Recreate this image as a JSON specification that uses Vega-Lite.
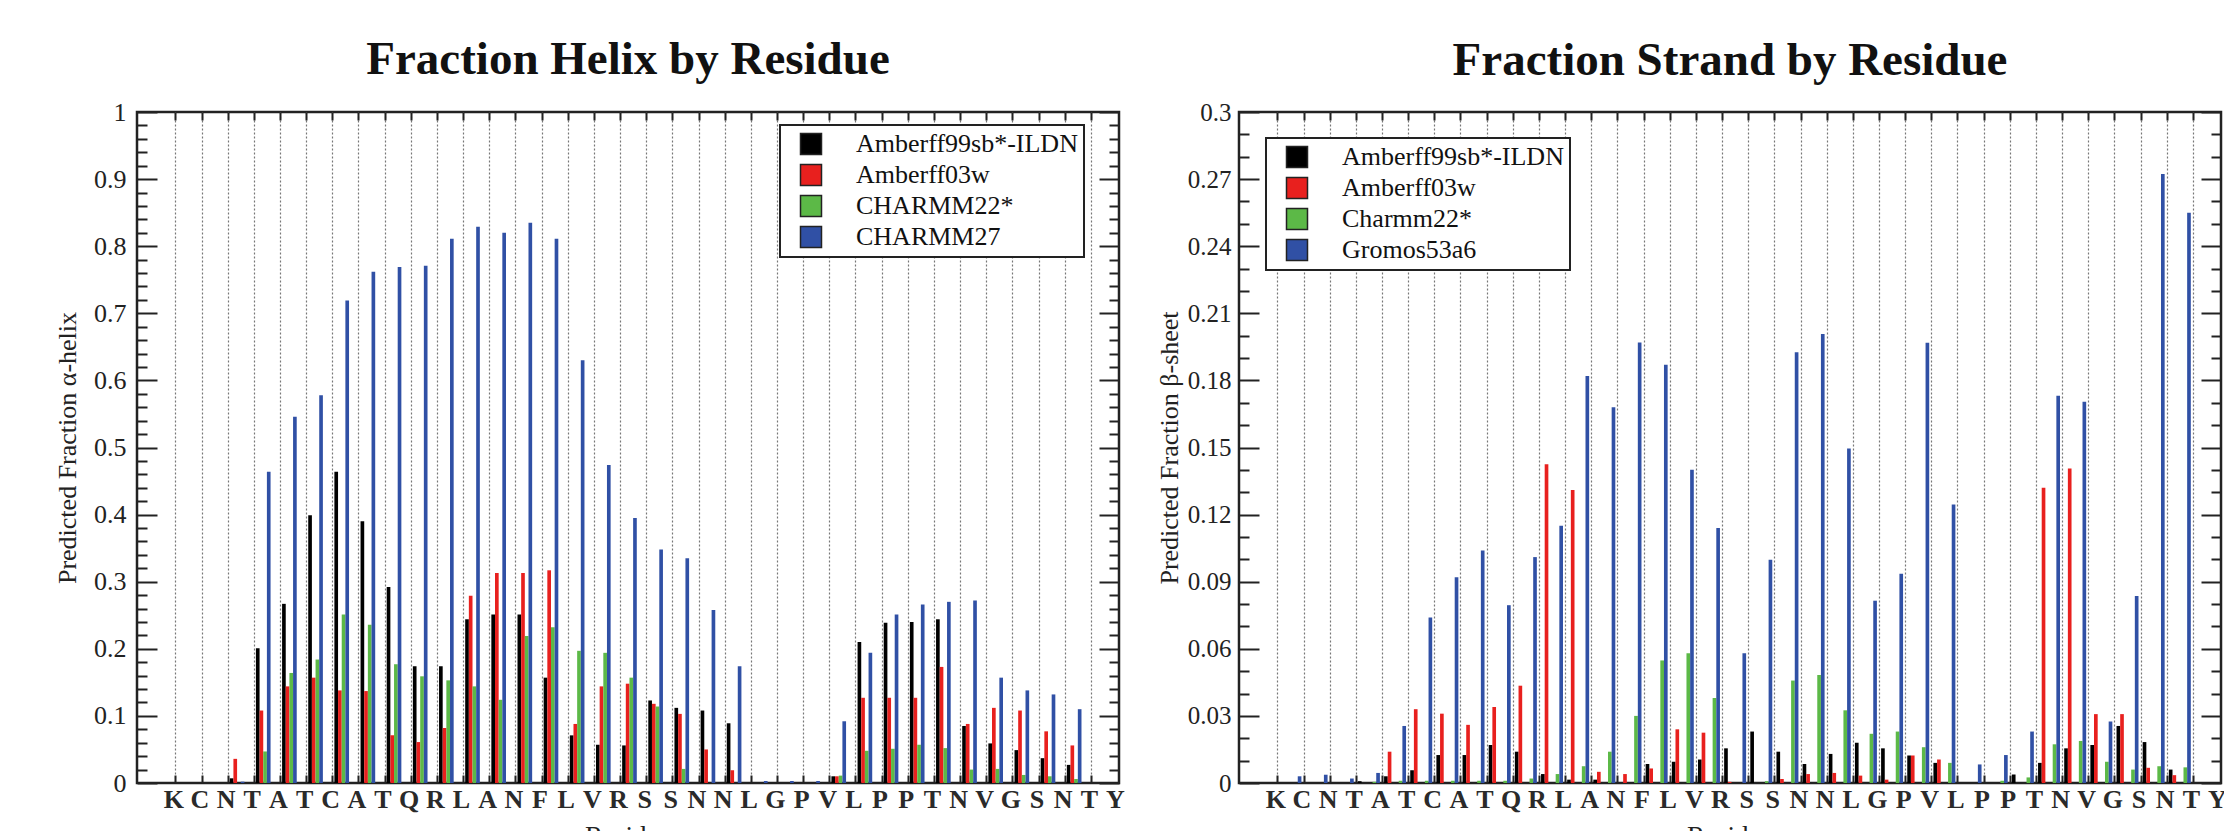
{
  "$schema": "https://vega.github.io/schema/vega-lite/v6.json",
  "background": "white",
  "autosize": {"type": "pad"},
  "padding": {"left": 52, "top": 34, "right": 5, "bottom": 0},
  "config": {
    "font": "Liberation Serif",
    "view": {"stroke": "#222", "strokeWidth": 2.5},
    "axis": {"labelFont": "Liberation Serif", "titleFont": "Liberation Serif", "labelColor": "#222", "titleColor": "#222", "tickColor": "#222", "tickWidth": 2, "domain": false, "grid": false, "titleFontWeight": "normal"},
    "title": {"font": "Liberation Serif", "fontSize": 47, "fontWeight": "bold", "color": "#111", "anchor": "middle", "offset": 15},
    "legend": {"symbolType": "square", "symbolSize": 441, "symbolStrokeColor": "#222", "symbolStrokeWidth": 1.5, "labelFont": "Liberation Serif", "labelFontSize": 26, "labelColor": "#111", "labelLimit": 400, "labelOffset": 32, "symbolOffset": 12, "padding": 6, "rowPadding": 3, "strokeColor": "#222", "strokeWidth": 2, "fillColor": "white"}
  },
  "datasets": {
    "helix": [
      {"i": 1, "res": "K", "Amberff99sb*-ILDN": 0, "Amberff03w": 0, "CHARMM22*": 0, "CHARMM27": 0},
      {"i": 2, "res": "C", "Amberff99sb*-ILDN": 0, "Amberff03w": 0, "CHARMM22*": 0, "CHARMM27": 0},
      {"i": 3, "res": "N", "Amberff99sb*-ILDN": 0, "Amberff03w": 0, "CHARMM22*": 0, "CHARMM27": 0},
      {"i": 4, "res": "T", "Amberff99sb*-ILDN": 0.007, "Amberff03w": 0.036, "CHARMM22*": 0, "CHARMM27": 0.002},
      {"i": 5, "res": "A", "Amberff99sb*-ILDN": 0.201, "Amberff03w": 0.108, "CHARMM22*": 0.047, "CHARMM27": 0.464},
      {"i": 6, "res": "T", "Amberff99sb*-ILDN": 0.267, "Amberff03w": 0.144, "CHARMM22*": 0.164, "CHARMM27": 0.546},
      {"i": 7, "res": "C", "Amberff99sb*-ILDN": 0.399, "Amberff03w": 0.157, "CHARMM22*": 0.184, "CHARMM27": 0.578},
      {"i": 8, "res": "A", "Amberff99sb*-ILDN": 0.464, "Amberff03w": 0.138, "CHARMM22*": 0.251, "CHARMM27": 0.719},
      {"i": 9, "res": "T", "Amberff99sb*-ILDN": 0.39, "Amberff03w": 0.137, "CHARMM22*": 0.236, "CHARMM27": 0.762},
      {"i": 10, "res": "Q", "Amberff99sb*-ILDN": 0.292, "Amberff03w": 0.071, "CHARMM22*": 0.177, "CHARMM27": 0.769},
      {"i": 11, "res": "R", "Amberff99sb*-ILDN": 0.174, "Amberff03w": 0.061, "CHARMM22*": 0.159, "CHARMM27": 0.771},
      {"i": 12, "res": "L", "Amberff99sb*-ILDN": 0.174, "Amberff03w": 0.082, "CHARMM22*": 0.153, "CHARMM27": 0.811},
      {"i": 13, "res": "A", "Amberff99sb*-ILDN": 0.244, "Amberff03w": 0.279, "CHARMM22*": 0.144, "CHARMM27": 0.829},
      {"i": 14, "res": "N", "Amberff99sb*-ILDN": 0.251, "Amberff03w": 0.313, "CHARMM22*": 0.124, "CHARMM27": 0.82},
      {"i": 15, "res": "F", "Amberff99sb*-ILDN": 0.251, "Amberff03w": 0.313, "CHARMM22*": 0.219, "CHARMM27": 0.835},
      {"i": 16, "res": "L", "Amberff99sb*-ILDN": 0.157, "Amberff03w": 0.317, "CHARMM22*": 0.232, "CHARMM27": 0.811},
      {"i": 17, "res": "V", "Amberff99sb*-ILDN": 0.071, "Amberff03w": 0.088, "CHARMM22*": 0.197, "CHARMM27": 0.63},
      {"i": 18, "res": "R", "Amberff99sb*-ILDN": 0.057, "Amberff03w": 0.144, "CHARMM22*": 0.194, "CHARMM27": 0.474},
      {"i": 19, "res": "S", "Amberff99sb*-ILDN": 0.056, "Amberff03w": 0.148, "CHARMM22*": 0.157, "CHARMM27": 0.395},
      {"i": 20, "res": "S", "Amberff99sb*-ILDN": 0.123, "Amberff03w": 0.118, "CHARMM22*": 0.114, "CHARMM27": 0.348},
      {"i": 21, "res": "N", "Amberff99sb*-ILDN": 0.112, "Amberff03w": 0.103, "CHARMM22*": 0.021, "CHARMM27": 0.335},
      {"i": 22, "res": "N", "Amberff99sb*-ILDN": 0.108, "Amberff03w": 0.05, "CHARMM22*": 0, "CHARMM27": 0.258},
      {"i": 23, "res": "L", "Amberff99sb*-ILDN": 0.089, "Amberff03w": 0.019, "CHARMM22*": 0, "CHARMM27": 0.174},
      {"i": 24, "res": "G", "Amberff99sb*-ILDN": 0, "Amberff03w": 0, "CHARMM22*": 0, "CHARMM27": 0.003},
      {"i": 25, "res": "P", "Amberff99sb*-ILDN": 0, "Amberff03w": 0, "CHARMM22*": 0, "CHARMM27": 0.003},
      {"i": 26, "res": "V", "Amberff99sb*-ILDN": 0, "Amberff03w": 0, "CHARMM22*": 0, "CHARMM27": 0.003},
      {"i": 27, "res": "L", "Amberff99sb*-ILDN": 0.01, "Amberff03w": 0.01, "CHARMM22*": 0.011, "CHARMM27": 0.092},
      {"i": 28, "res": "P", "Amberff99sb*-ILDN": 0.21, "Amberff03w": 0.127, "CHARMM22*": 0.048, "CHARMM27": 0.194},
      {"i": 29, "res": "P", "Amberff99sb*-ILDN": 0.239, "Amberff03w": 0.127, "CHARMM22*": 0.051, "CHARMM27": 0.251},
      {"i": 30, "res": "T", "Amberff99sb*-ILDN": 0.24, "Amberff03w": 0.127, "CHARMM22*": 0.057, "CHARMM27": 0.266},
      {"i": 31, "res": "N", "Amberff99sb*-ILDN": 0.244, "Amberff03w": 0.173, "CHARMM22*": 0.052, "CHARMM27": 0.27},
      {"i": 32, "res": "V", "Amberff99sb*-ILDN": 0.085, "Amberff03w": 0.088, "CHARMM22*": 0.02, "CHARMM27": 0.272},
      {"i": 33, "res": "G", "Amberff99sb*-ILDN": 0.059, "Amberff03w": 0.112, "CHARMM22*": 0.021, "CHARMM27": 0.157},
      {"i": 34, "res": "S", "Amberff99sb*-ILDN": 0.049, "Amberff03w": 0.108, "CHARMM22*": 0.012, "CHARMM27": 0.138},
      {"i": 35, "res": "N", "Amberff99sb*-ILDN": 0.037, "Amberff03w": 0.077, "CHARMM22*": 0.01, "CHARMM27": 0.132},
      {"i": 36, "res": "T", "Amberff99sb*-ILDN": 0.027, "Amberff03w": 0.056, "CHARMM22*": 0.006, "CHARMM27": 0.11},
      {"i": 37, "res": "Y", "Amberff99sb*-ILDN": 0, "Amberff03w": 0, "CHARMM22*": 0, "CHARMM27": 0}
    ],
    "strand": [
      {"i": 1, "res": "K", "Amberff99sb*-ILDN": 0, "Amberff03w": 0, "Charmm22*": 0, "Gromos53a6": 0},
      {"i": 2, "res": "C", "Amberff99sb*-ILDN": 0, "Amberff03w": 0, "Charmm22*": 0, "Gromos53a6": 0.003},
      {"i": 3, "res": "N", "Amberff99sb*-ILDN": 0, "Amberff03w": 0, "Charmm22*": 0, "Gromos53a6": 0.0037},
      {"i": 4, "res": "T", "Amberff99sb*-ILDN": 0, "Amberff03w": 0, "Charmm22*": 0, "Gromos53a6": 0.002},
      {"i": 5, "res": "A", "Amberff99sb*-ILDN": 0.0008, "Amberff03w": 0, "Charmm22*": 0.0005, "Gromos53a6": 0.0045},
      {"i": 6, "res": "T", "Amberff99sb*-ILDN": 0.003, "Amberff03w": 0.014, "Charmm22*": 0.001, "Gromos53a6": 0.0255},
      {"i": 7, "res": "C", "Amberff99sb*-ILDN": 0.0057, "Amberff03w": 0.033, "Charmm22*": 0.001, "Gromos53a6": 0.074},
      {"i": 8, "res": "A", "Amberff99sb*-ILDN": 0.0125, "Amberff03w": 0.031, "Charmm22*": 0.001, "Gromos53a6": 0.092},
      {"i": 9, "res": "T", "Amberff99sb*-ILDN": 0.0125, "Amberff03w": 0.026, "Charmm22*": 0.001, "Gromos53a6": 0.104},
      {"i": 10, "res": "Q", "Amberff99sb*-ILDN": 0.017, "Amberff03w": 0.034, "Charmm22*": 0.001, "Gromos53a6": 0.0795},
      {"i": 11, "res": "R", "Amberff99sb*-ILDN": 0.014, "Amberff03w": 0.0435, "Charmm22*": 0.002, "Gromos53a6": 0.101},
      {"i": 12, "res": "L", "Amberff99sb*-ILDN": 0.004, "Amberff03w": 0.1425, "Charmm22*": 0.004, "Gromos53a6": 0.115},
      {"i": 13, "res": "A", "Amberff99sb*-ILDN": 0.0015, "Amberff03w": 0.131, "Charmm22*": 0.0075, "Gromos53a6": 0.182},
      {"i": 14, "res": "N", "Amberff99sb*-ILDN": 0.0015, "Amberff03w": 0.005, "Charmm22*": 0.014, "Gromos53a6": 0.168},
      {"i": 15, "res": "F", "Amberff99sb*-ILDN": 0, "Amberff03w": 0.004, "Charmm22*": 0.03, "Gromos53a6": 0.197},
      {"i": 16, "res": "L", "Amberff99sb*-ILDN": 0.0085, "Amberff03w": 0.0065, "Charmm22*": 0.0548, "Gromos53a6": 0.187},
      {"i": 17, "res": "V", "Amberff99sb*-ILDN": 0.0095, "Amberff03w": 0.024, "Charmm22*": 0.058, "Gromos53a6": 0.14},
      {"i": 18, "res": "R", "Amberff99sb*-ILDN": 0.0105, "Amberff03w": 0.0225, "Charmm22*": 0.038, "Gromos53a6": 0.114},
      {"i": 19, "res": "S", "Amberff99sb*-ILDN": 0.0155, "Amberff03w": 0.0005, "Charmm22*": 0, "Gromos53a6": 0.058},
      {"i": 20, "res": "S", "Amberff99sb*-ILDN": 0.023, "Amberff03w": 0, "Charmm22*": 0.0008, "Gromos53a6": 0.0998},
      {"i": 21, "res": "N", "Amberff99sb*-ILDN": 0.014, "Amberff03w": 0.0018, "Charmm22*": 0.0458, "Gromos53a6": 0.1926},
      {"i": 22, "res": "N", "Amberff99sb*-ILDN": 0.0085, "Amberff03w": 0.004, "Charmm22*": 0.0483, "Gromos53a6": 0.2008},
      {"i": 23, "res": "L", "Amberff99sb*-ILDN": 0.013, "Amberff03w": 0.0045, "Charmm22*": 0.0325, "Gromos53a6": 0.1495},
      {"i": 24, "res": "G", "Amberff99sb*-ILDN": 0.018, "Amberff03w": 0.0033, "Charmm22*": 0.022, "Gromos53a6": 0.0815},
      {"i": 25, "res": "P", "Amberff99sb*-ILDN": 0.0155, "Amberff03w": 0.0015, "Charmm22*": 0.023, "Gromos53a6": 0.0935},
      {"i": 26, "res": "V", "Amberff99sb*-ILDN": 0.0123, "Amberff03w": 0.0123, "Charmm22*": 0.016, "Gromos53a6": 0.1968},
      {"i": 27, "res": "L", "Amberff99sb*-ILDN": 0.009, "Amberff03w": 0.0105, "Charmm22*": 0.009, "Gromos53a6": 0.1245},
      {"i": 28, "res": "P", "Amberff99sb*-ILDN": 0, "Amberff03w": 0, "Charmm22*": 0, "Gromos53a6": 0.0083},
      {"i": 29, "res": "P", "Amberff99sb*-ILDN": 0, "Amberff03w": 0, "Charmm22*": 0.001, "Gromos53a6": 0.0125},
      {"i": 30, "res": "T", "Amberff99sb*-ILDN": 0.0038, "Amberff03w": 0, "Charmm22*": 0.0025, "Gromos53a6": 0.023},
      {"i": 31, "res": "N", "Amberff99sb*-ILDN": 0.009, "Amberff03w": 0.132, "Charmm22*": 0.0173, "Gromos53a6": 0.1731},
      {"i": 32, "res": "V", "Amberff99sb*-ILDN": 0.0155, "Amberff03w": 0.1406, "Charmm22*": 0.0188, "Gromos53a6": 0.1704},
      {"i": 33, "res": "G", "Amberff99sb*-ILDN": 0.017, "Amberff03w": 0.0308, "Charmm22*": 0.0095, "Gromos53a6": 0.0275},
      {"i": 34, "res": "S", "Amberff99sb*-ILDN": 0.0255, "Amberff03w": 0.0308, "Charmm22*": 0.006, "Gromos53a6": 0.0836},
      {"i": 35, "res": "N", "Amberff99sb*-ILDN": 0.0183, "Amberff03w": 0.0068, "Charmm22*": 0.0075, "Gromos53a6": 0.2723},
      {"i": 36, "res": "T", "Amberff99sb*-ILDN": 0.006, "Amberff03w": 0.0035, "Charmm22*": 0.007, "Gromos53a6": 0.255},
      {"i": 37, "res": "Y", "Amberff99sb*-ILDN": 0, "Amberff03w": 0, "Charmm22*": 0, "Gromos53a6": 0}
    ]
  },
  "spacing": 28,
  "hconcat": [
    {
      "width": 982,
      "height": 671,
      "title": {"text": "Fraction Helix by Residue"},
      "data": {"name": "helix"},
      "transform": [{"fold": ["Amberff99sb*-ILDN", "Amberff03w", "CHARMM22*", "CHARMM27"], "as": ["model", "v"]}],
      "layer": [
        {
          "mark": {"type": "bar"},
          "encoding": {
            "x": {"field": "i", "type": "ordinal", "scale": {"paddingInner": 0.16, "paddingOuter": 0.35, "align": 0.78},
              "axis": {"orient": "bottom", "labelExpr": "isValid(datum.value) && datum.value >= 1 && datum.value <= 37 ? substring('KCNTATCATQRLANFLVRSSNNLGPVLPPTNVGSNTY', datum.value - 1, datum.value) : ''", "labelAngle": 0, "labelFontSize": 26, "labelFontWeight": "bold", "labelColor": "#2a2a2a", "labelPadding": 11, "labelOverlap": false, "bandPosition": 0, "tickOffset": -2.1, "labelOffset": 13.1, "tickSize": -8,
                "tickOpacity": {"condition": {"test": "datum.value == 1", "value": 0}, "value": 1},
                "grid": true, "gridDash": [2, 2], "gridColor": "#777", "gridWidth": 1.2,
                "gridOpacity": {"condition": {"test": "datum.value == 1", "value": 0}, "value": 1},
                "title": "Residue", "titleFontSize": 27, "titleX": 491, "titleY": 40, "titleBaseline": "top", "titleAlign": "center", "titleAngle": 0}},
            "xOffset": {"field": "model", "type": "nominal", "scale": {"domain": ["Amberff99sb*-ILDN", "Amberff03w", "CHARMM22*", "CHARMM27"]}},
            "y": {"field": "v", "type": "quantitative", "stack": null, "scale": {"domain": [0, 1], "nice": false},
              "axis": {"orient": "left", "values": [0,0.02,0.04,0.06,0.08,0.1,0.12,0.14,0.16,0.18,0.2,0.22,0.24,0.26,0.28,0.3,0.32,0.34,0.36,0.38,0.4,0.42,0.44,0.46,0.48,0.5,0.52,0.54,0.56,0.58,0.6,0.62,0.64,0.66,0.68,0.7,0.72,0.74,0.76,0.78,0.8,0.82,0.84,0.86,0.88,0.9,0.92,0.94,0.96,0.98,1],
                "format": ".2~f", "labelExpr": "round(datum.value*100) % 10 == 0 ? datum.label : ''",
                "tickSize": {"condition": {"test": "round(datum.value*100) % 10 == 0", "value": -20}, "value": -10},
                "labelPadding": 31, "labelFontSize": 26, "labelOverlap": false,
                "title": "Predicted Fraction α-helix", "titleFontSize": 26, "titleX": -70, "titleY": 335.5, "titleAngle": 270, "titleAlign": "center", "titleBaseline": "middle"}},
            "color": {"field": "model", "type": "nominal", "scale": {"domain": ["Amberff99sb*-ILDN", "Amberff03w", "CHARMM22*", "CHARMM27"], "range": ["#000000", "#e8201e", "#5cb947", "#3050a5"]},
              "legend": {"orient": "none", "legendX": 643, "legendY": 13, "title": null}}
          }
        },
        {
          "mark": {"type": "bar", "opacity": 0},
          "encoding": {
            "x": {"field": "i", "type": "ordinal", "axis": {"orient": "top", "labels": false, "tickSize": -8, "bandPosition": 0, "tickOffset": -2.1,
              "tickOpacity": {"condition": {"test": "datum.value == 1", "value": 0}, "value": 1}, "grid": false, "title": null}},
            "y": {"field": "v", "type": "quantitative", "stack": null,
              "axis": {"orient": "right", "labels": false, "grid": false, "title": null, "values": [0,0.02,0.04,0.06,0.08,0.1,0.12,0.14,0.16,0.18,0.2,0.22,0.24,0.26,0.28,0.3,0.32,0.34,0.36,0.38,0.4,0.42,0.44,0.46,0.48,0.5,0.52,0.54,0.56,0.58,0.6,0.62,0.64,0.66,0.68,0.7,0.72,0.74,0.76,0.78,0.8,0.82,0.84,0.86,0.88,0.9,0.92,0.94,0.96,0.98,1],
                "tickSize": {"condition": {"test": "round(datum.value*100) % 10 == 0", "value": -20}, "value": -10}}}
          }
        }
      ],
      "resolve": {"axis": {"x": "independent", "y": "independent"}}
    },
    {
      "width": 982,
      "height": 671,
      "title": {"text": "Fraction Strand by Residue"},
      "data": {"name": "strand"},
      "transform": [{"fold": ["Amberff99sb*-ILDN", "Amberff03w", "Charmm22*", "Gromos53a6"], "as": ["model", "v"]}],
      "layer": [
        {
          "mark": {"type": "bar"},
          "encoding": {
            "x": {"field": "i", "type": "ordinal", "scale": {"paddingInner": 0.16, "paddingOuter": 0.35, "align": 0.78},
              "axis": {"orient": "bottom", "labelExpr": "isValid(datum.value) && datum.value >= 1 && datum.value <= 37 ? substring('KCNTATCATQRLANFLVRSSNNLGPVLPPTNVGSNTY', datum.value - 1, datum.value) : ''", "labelAngle": 0, "labelFontSize": 26, "labelFontWeight": "bold", "labelColor": "#2a2a2a", "labelPadding": 11, "labelOverlap": false, "bandPosition": 0, "tickOffset": -2.1, "labelOffset": 13.1, "tickSize": -8,
                "tickOpacity": {"condition": {"test": "datum.value == 1", "value": 0}, "value": 1},
                "grid": true, "gridDash": [2, 2], "gridColor": "#777", "gridWidth": 1.2,
                "gridOpacity": {"condition": {"test": "datum.value == 1", "value": 0}, "value": 1},
                "title": "Residue", "titleFontSize": 27, "titleX": 491, "titleY": 40, "titleBaseline": "top", "titleAlign": "center", "titleAngle": 0}},
            "xOffset": {"field": "model", "type": "nominal", "scale": {"domain": ["Amberff99sb*-ILDN", "Amberff03w", "Charmm22*", "Gromos53a6"]}},
            "y": {"field": "v", "type": "quantitative", "stack": null, "scale": {"domain": [0, 0.3], "nice": false},
              "axis": {"orient": "left", "values": [0,0.01,0.02,0.03,0.04,0.05,0.06,0.07,0.08,0.09,0.1,0.11,0.12,0.13,0.14,0.15,0.16,0.17,0.18,0.19,0.2,0.21,0.22,0.23,0.24,0.25,0.26,0.27,0.28,0.29,0.3],
                "format": ".2~f", "labelExpr": "round(datum.value*100) % 3 == 0 ? datum.label : ''",
                "tickSize": {"condition": {"test": "round(datum.value*100) % 3 == 0", "value": -20}, "value": -10},
                "labelPadding": 28, "labelFontSize": 25, "labelOverlap": false,
                "title": "Predicted Fraction β-sheet", "titleFontSize": 26, "titleX": -70, "titleY": 335.5, "titleAngle": 270, "titleAlign": "center", "titleBaseline": "middle"}},
            "color": {"field": "model", "type": "nominal", "scale": {"domain": ["Amberff99sb*-ILDN", "Amberff03w", "Charmm22*", "Gromos53a6"], "range": ["#000000", "#e8201e", "#5cb947", "#3050a5"]},
              "legend": {"orient": "none", "legendX": 27, "legendY": 26, "title": null}}
          }
        },
        {
          "mark": {"type": "bar", "opacity": 0},
          "encoding": {
            "x": {"field": "i", "type": "ordinal", "axis": {"orient": "top", "labels": false, "tickSize": -8, "bandPosition": 0, "tickOffset": -2.1,
              "tickOpacity": {"condition": {"test": "datum.value == 1", "value": 0}, "value": 1}, "grid": false, "title": null}},
            "y": {"field": "v", "type": "quantitative", "stack": null,
              "axis": {"orient": "right", "labels": false, "grid": false, "title": null, "values": [0,0.01,0.02,0.03,0.04,0.05,0.06,0.07,0.08,0.09,0.1,0.11,0.12,0.13,0.14,0.15,0.16,0.17,0.18,0.19,0.2,0.21,0.22,0.23,0.24,0.25,0.26,0.27,0.28,0.29,0.3],
                "tickSize": {"condition": {"test": "round(datum.value*100) % 3 == 0", "value": -20}, "value": -10}}}
          }
        }
      ],
      "resolve": {"axis": {"x": "independent", "y": "independent"}}
    }
  ],
  "resolve": {"scale": {"color": "independent"}, "legend": {"color": "independent"}}
}
